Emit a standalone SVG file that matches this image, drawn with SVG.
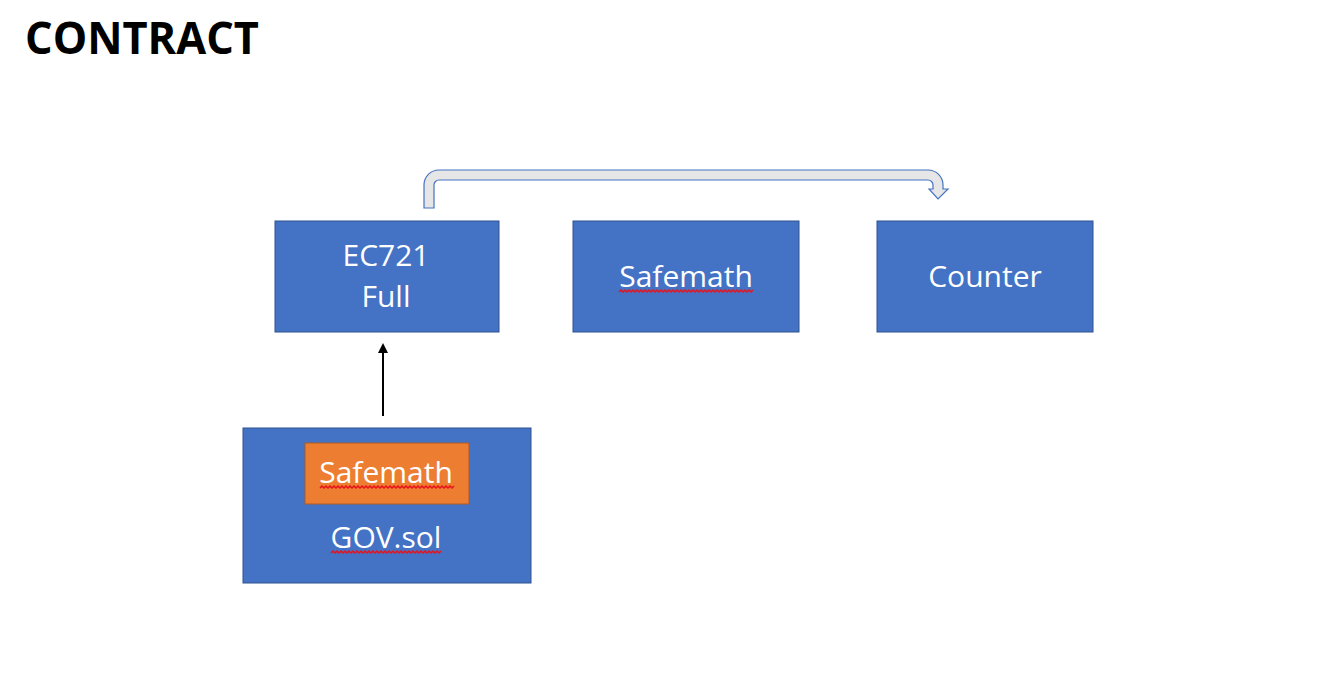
<svg xmlns="http://www.w3.org/2000/svg" width="1332" height="696" viewBox="0 0 1332 696">
<defs>
<style>
.box{fill:#4472C4;stroke:#2F528F;stroke-width:1}
.orange{fill:#ED7D31;stroke:#AE5A21;stroke-width:1}
.lbl{font-family:"Open Sans","Liberation Sans",sans-serif;font-size:30px;fill:#ffffff;text-anchor:middle}
.title{font-family:"Open Sans","Liberation Sans",sans-serif;font-weight:bold;font-size:44px;fill:#000000}
.squig{fill:none;stroke:#E8141B;stroke-width:1.5}
.conn{stroke:#000000;stroke-width:2;fill:none}
.bent{fill:#E7E6E6;stroke:#4472C4;stroke-width:1.2;stroke-linejoin:miter}
</style>
<marker id="ah" markerWidth="10" markerHeight="10" refX="5" refY="5" orient="auto" markerUnits="userSpaceOnUse" viewBox="0 0 10 10">
<path d="M0,0 L10,5 L0,10 z" fill="#000000"/>
</marker>
</defs>
<rect width="1332" height="696" fill="#ffffff"/>
<text class="title" x="25" y="54" textLength="234" lengthAdjust="spacingAndGlyphs">CONTRACT</text>

<g id="connectors">
<line class="conn" x1="383" y1="416" x2="383" y2="348" marker-end="url(#ah)"/>
<path class="bent" d="M424,208 L424,185 A15,15 0 0 1 439,170 L928,170 A15,15 0 0 1 943,185 L943,189 L948,189 L938,199 L929,189 L933,189 L933,185 A5,5 0 0 0 928,180 L439,180 A5,5 0 0 0 434,185 L434,208 Z"/>
</g>

<g id="ec721">
<rect class="box" x="275" y="221" width="224" height="111"/>
<text class="lbl" x="386" y="266">EC721</text>
<text class="lbl" x="386" y="307">Full</text>
</g>

<g id="safemath">
<rect class="box" x="573" y="221" width="226" height="111"/>
<text class="lbl" x="686" y="287">Safemath</text>
<polyline class="squig" points="619,292 621,290 623,292 625,290 627,292 629,290 631,292 633,290 635,292 637,290 639,292 641,290 643,292 645,290 647,292 649,290 651,292 653,290 655,292 657,290 659,292 661,290 663,292 665,290 667,292 669,290 671,292 673,290 675,292 677,290 679,292 681,290 683,292 685,290 687,292 689,290 691,292 693,290 695,292 697,290 699,292 701,290 703,292 705,290 707,292 709,290 711,292 713,290 715,292 717,290 719,292 721,290 723,292 725,290 727,292 729,290 731,292 733,290 735,292 737,290 739,292 741,290 743,292 745,290 747,292 749,290 751,292 753,290"/>
</g>

<g id="counter">
<rect class="box" x="877" y="221" width="216" height="111"/>
<text class="lbl" x="985" y="287">Counter</text>
</g>

<g id="gov">
<rect class="box" x="243" y="428" width="288" height="155"/>
<text class="lbl" x="386" y="548">GOV.sol</text>
<polyline class="squig" points="331,553 333,551 335,553 337,551 339,553 341,551 343,553 345,551 347,553 349,551 351,553 353,551 355,553 357,551 359,553 361,551 363,553 365,551 367,553 369,551 371,553 373,551 375,553 377,551 379,553 381,551 383,553 385,551 387,553 389,551 391,553 393,551 395,553 397,551 399,553 401,551 403,553 405,551 407,553 409,551 411,553 413,551 415,553 417,551 419,553 421,551 423,553 425,551 427,553 429,551 431,553 433,551 435,553 437,551 439,553 441,551"/>
<g id="gov-safemath">
<rect class="orange" x="305" y="443" width="164" height="61"/>
<text class="lbl" x="386" y="483">Safemath</text>
<polyline class="squig" points="320,488 322,486 324,488 326,486 328,488 330,486 332,488 334,486 336,488 338,486 340,488 342,486 344,488 346,486 348,488 350,486 352,488 354,486 356,488 358,486 360,488 362,486 364,488 366,486 368,488 370,486 372,488 374,486 376,488 378,486 380,488 382,486 384,488 386,486 388,488 390,486 392,488 394,486 396,488 398,486 400,488 402,486 404,488 406,486 408,488 410,486 412,488 414,486 416,488 418,486 420,488 422,486 424,488 426,486 428,488 430,486 432,488 434,486 436,488 438,486 440,488 442,486 444,488 446,486 448,488 450,486 452,488 454,486"/>
</g>
</g>
</svg>
